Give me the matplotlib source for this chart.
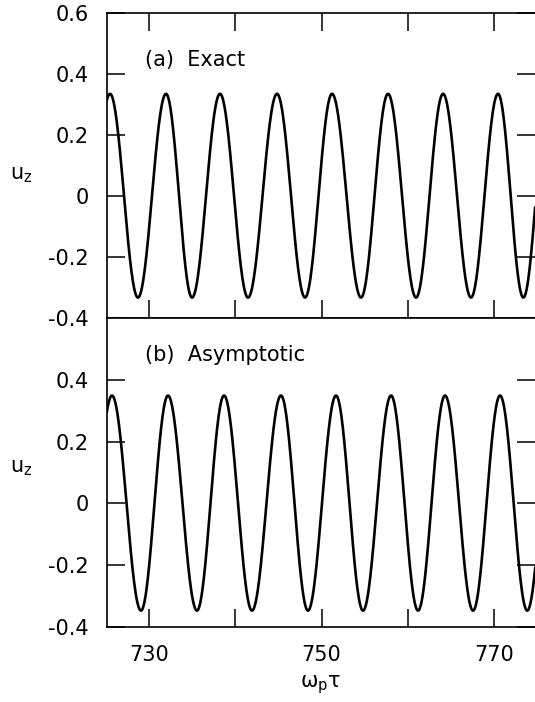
import matplotlib

matplotlib.use("Agg")
import matplotlib.pyplot as plt
import numpy as np

# extrema of u_z (time, value), in order
EXACT_T = [725.48, 728.72, 731.97, 734.99, 738.23, 741.48, 744.84, 748.09,
           751.22, 754.58, 757.71, 760.96, 764.09, 767.33, 770.46, 773.40]
EXACT_U = [0.335, -0.333, 0.335, -0.333, 0.335, -0.333, 0.335, -0.333,
           0.335, -0.333, 0.335, -0.333, 0.335, -0.333, 0.335, -0.333]

ASYM_T = [725.71, 729.07, 732.20, 735.56, 738.70, 741.94, 745.30, 748.43,
          751.68, 754.81, 758.06, 761.19, 764.32, 767.57, 770.70, 773.85]
ASYM_U = [0.349, -0.347, 0.349, -0.347, 0.349, -0.347, 0.349, -0.347,
          0.349, -0.347, 0.349, -0.347, 0.349, -0.347, 0.349, -0.347]

X_TICKS = [730, 740, 750, 760, 770]
X_LABELS = ["730", "", "750", "", "770"]
Y_TICKS_A = [-0.4, -0.2, 0.0, 0.2, 0.4, 0.6]
Y_LABELS_A = ["-0.4", "-0.2", "0", "0.2", "0.4", "0.6"]
Y_TICKS_B = [-0.4, -0.2, 0.0, 0.2, 0.4]
Y_LABELS_B = ["-0.4", "-0.2", "0", "0.2", "0.4"]
X_RANGE = (725.13, 774.75)
Y_RANGE = (-0.4, 0.6)

W, H = 535, 702


def smooth_path(t_ext, u_ext, n=60):
    # join successive extrema with half-cosine arcs, first/last arc extended
    ts, us = [], []
    last = len(t_ext) - 2
    for i in range(len(t_ext) - 1):
        t0, t1 = t_ext[i], t_ext[i + 1]
        u0, u1 = u_ext[i], u_ext[i + 1]
        lo = -1.0 if i == 0 else 0.0
        hi = 2.0 if i == last else 1.0
        s = np.linspace(lo, hi, int(n * (hi - lo)))
        ts.append(t0 + s * (t1 - t0))
        us.append((u0 + u1) / 2 + (u0 - u1) / 2 * np.cos(np.pi * s))
    return np.concatenate(ts), np.concatenate(us)


def style_axes(ax, yticks, ylabels, top_ticks):
    ax.set_xlim(*X_RANGE)
    ax.set_ylim(*Y_RANGE)
    ax.set_xticks(X_TICKS)
    ax.set_yticks(yticks)
    ax.set_yticklabels(ylabels)
    ax.tick_params(direction="in", length=13, width=1.1, labelsize=15,
                   pad=13, top=top_ticks, right=True)
    ax.spines["right"].set_visible(False)
    for side in ("left", "top", "bottom"):
        ax.spines[side].set_linewidth(1.2)


plt.rcParams["font.family"] = "DejaVu Sans"
plt.rcParams["mathtext.fontset"] = "dejavusans"
plt.rcParams["axes.unicode_minus"] = False

fig = plt.figure(figsize=(W / 100, H / 100), dpi=100)
left = 107 / W
width = 1.0 - left
ax_a = fig.add_axes([left, 1 - 318 / H, width, (318 - 13) / H])
ax_b = fig.add_axes([left, 1 - 627 / H, width, (627 - 318) / H])

t, u = smooth_path(EXACT_T, EXACT_U)
ax_a.plot(t, u, color="black", linewidth=1.9)
t, u = smooth_path(ASYM_T, ASYM_U)
ax_b.plot(t, u, color="black", linewidth=1.9)

style_axes(ax_a, Y_TICKS_A, Y_LABELS_A, top_ticks=True)
style_axes(ax_b, Y_TICKS_B, Y_LABELS_B, top_ticks=False)
ax_a.tick_params(labelbottom=False)
ax_b.set_xticklabels(X_LABELS)
ax_b.set_xlabel(r"ω$_\mathrm{p}$τ", fontsize=15, labelpad=6)

ax_a.text(145 / W, 1 - 60 / H, "(a)  Exact", transform=fig.transFigure,
          fontsize=15, va="center", ha="left")
ax_b.text(145 / W, 1 - 355 / H, "(b)  Asymptotic", transform=fig.transFigure,
          fontsize=15, va="center", ha="left")
fig.text(10 / W, 1 - 175 / H, r"u$_\mathrm{z}$", fontsize=15, va="center", ha="left")
fig.text(10 / W, 1 - 468 / H, r"u$_\mathrm{z}$", fontsize=15, va="center", ha="left")

fig.savefig("out.png", dpi=100)
